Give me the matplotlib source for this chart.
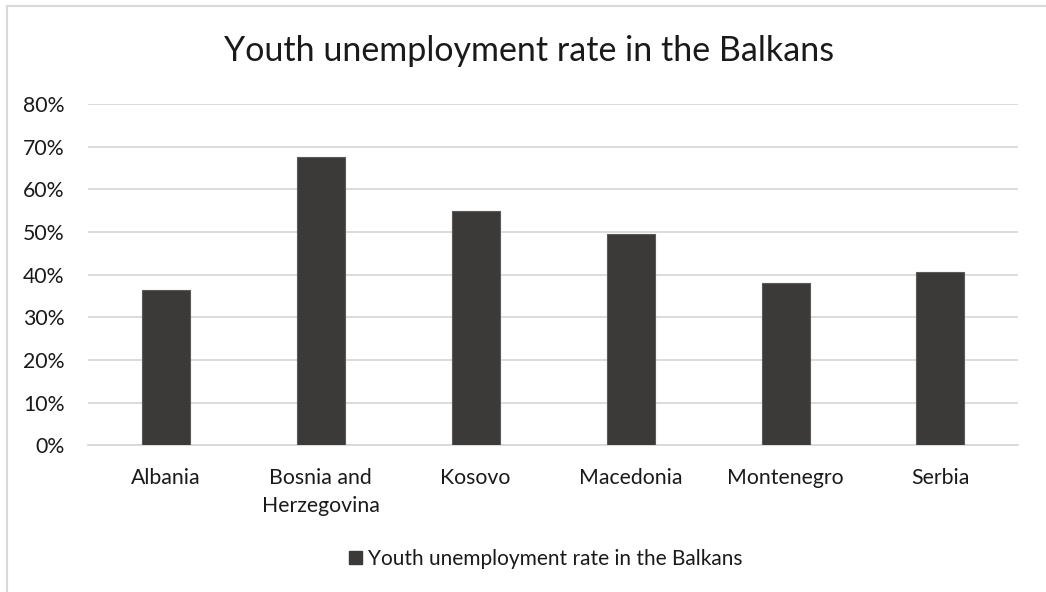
import matplotlib
matplotlib.use("Agg")
import matplotlib.pyplot as plt
from matplotlib.lines import Line2D
from matplotlib.patches import Patch
from matplotlib.ticker import FuncFormatter, MultipleLocator

categories = ["Albania", "Bosnia and\nHerzegovina", "Kosovo", "Macedonia", "Montenegro", "Serbia"]
values = [36.3, 67.6, 55.0, 49.5, 38.0, 40.6]
title = "Youth unemployment rate in the Balkans"
series_name = "Youth unemployment rate in the Balkans"

plt.rcParams['font.family'] = ['Lato', 'DejaVu Sans']

W, H = 1046, 592
fig = plt.figure(figsize=(W / 100, H / 100), dpi=100)
fig.patch.set_facecolor("white")

ax = fig.add_axes([88 / W, (H - 445.3) / H, 930 / W, (445.3 - 104) / H])
x = list(range(len(categories)))
ax.bar(x, values, width=48 / 155, color="#3b3a38", edgecolor="#5a5a5a", linewidth=0.8, zorder=3)
ax.set_xlim(-0.5, len(categories) - 0.5)
ax.set_ylim(0, 80)
ax.yaxis.set_major_locator(MultipleLocator(10))
ax.yaxis.set_major_formatter(FuncFormatter(lambda v, p: f"{v:.0f}%"))
ax.set_xticks(x)
ax.set_xticklabels(categories, fontsize=15.3, color="#1a1a1a", linespacing=1.55)
ax.tick_params(axis="y", labelsize=15.3, labelcolor="#1a1a1a", length=0, pad=17)
ax.tick_params(axis="x", length=0, pad=16)
ax.grid(axis="y", color="#d9d9d9", linewidth=1.3, zorder=0)
for s in ["top", "right", "left"]:
    ax.spines[s].set_visible(False)
ax.spines["bottom"].set_color("#d9d9d9")
ax.spines["bottom"].set_linewidth(1.3)

fig.text(529 / W, 1 - 51 / H, title, ha="center", va="center", fontsize=24.5, color="#1a1a1a")

handle = Patch(facecolor="#3b3a38", edgecolor="#3b3a38")
fig.legend([handle], [series_name], loc="center", bbox_to_anchor=(546 / W, 1 - 559 / H),
           frameon=False, fontsize=15.0, handlelength=0.6, handleheight=0.6, handletextpad=0.3,
           labelcolor="#1a1a1a")

fig.add_artist(Line2D([6.5 / W, 1], [1 - 5.5 / H, 1 - 5.5 / H], color="#d9d9d9", linewidth=1.5))
fig.add_artist(Line2D([6.5 / W, 6.5 / W], [0, 1 - 5.5 / H], color="#d9d9d9", linewidth=1.5))

fig.savefig("out.png", dpi=100, facecolor="white")
